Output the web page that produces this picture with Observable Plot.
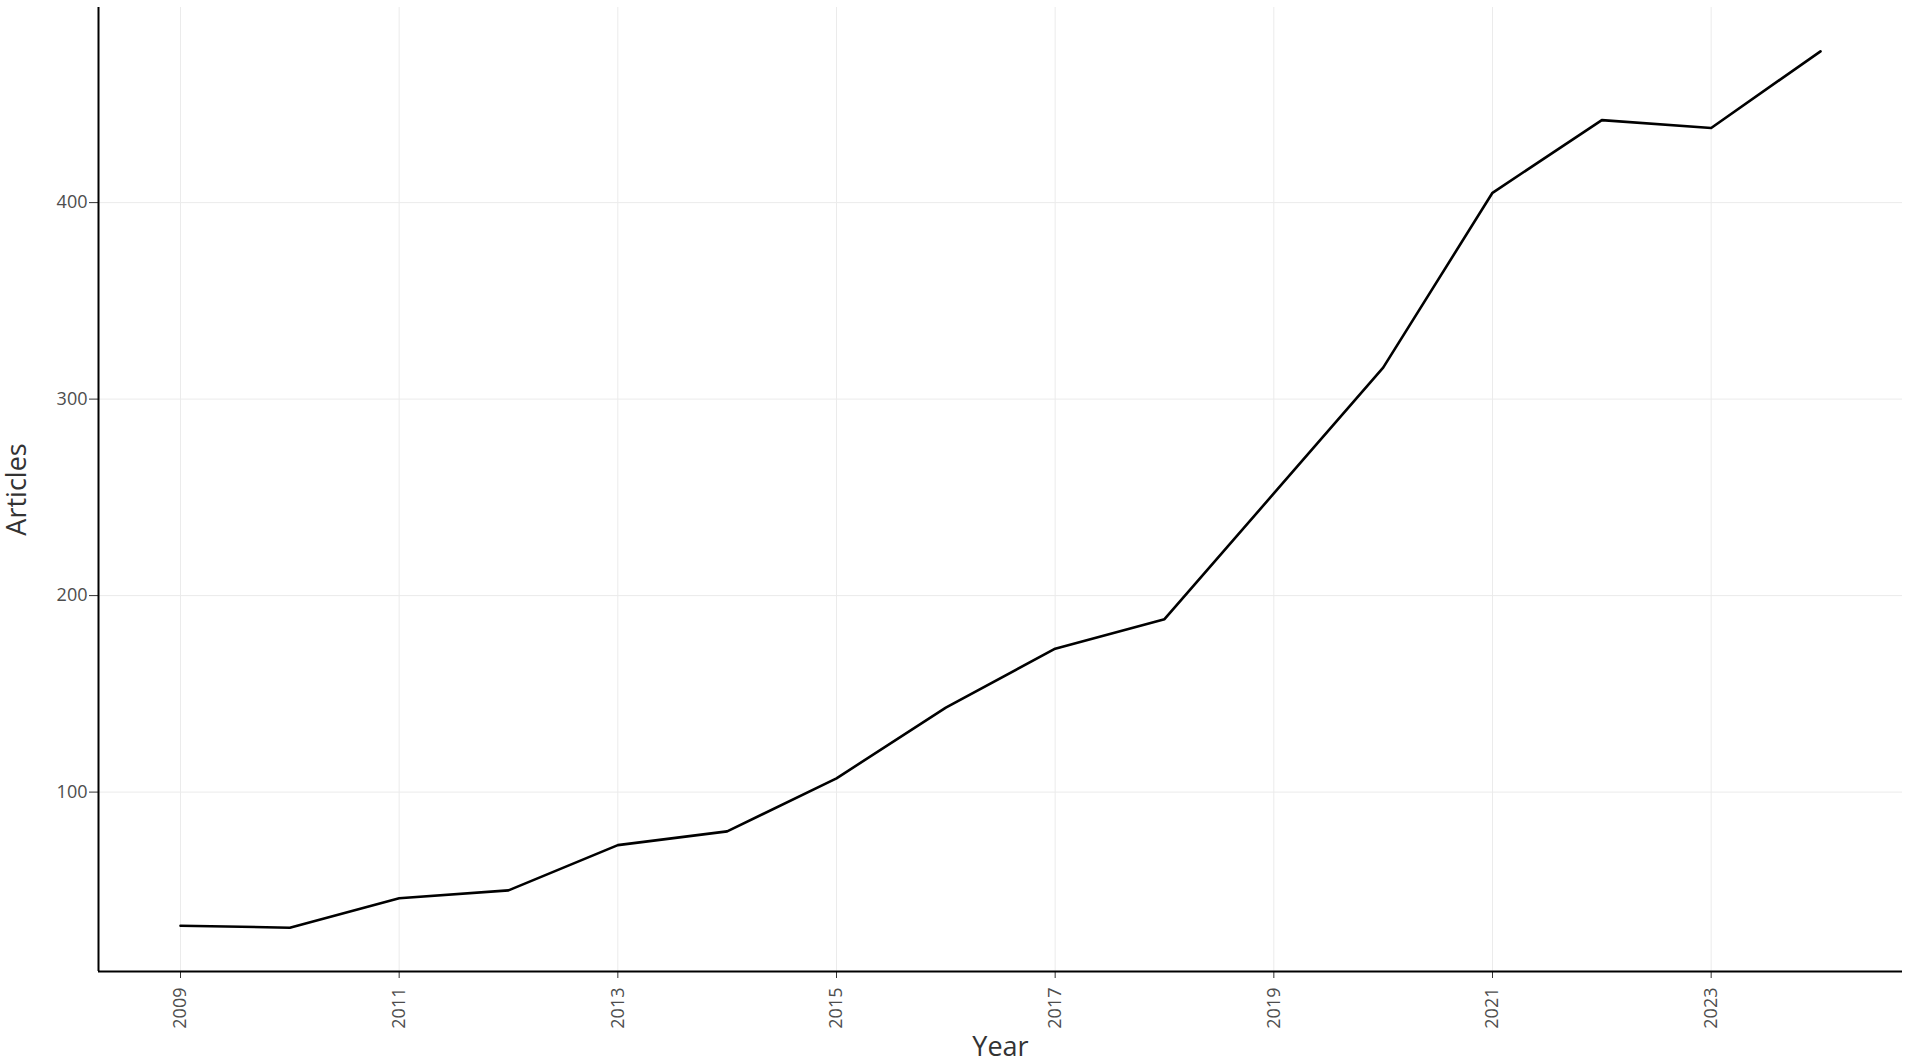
<!DOCTYPE html>
<html>
<head>
<meta charset="utf-8">
<script src="https://cdn.jsdelivr.net/npm/d3@7"></script>
<script src="https://cdn.jsdelivr.net/npm/@observablehq/plot@0.6"></script>
<style>
  html, body { margin: 0; padding: 0; background: #fff; }
  #chart svg { display: block; }
</style>
</head>
<body>
<div id="chart"></div>
<script>
// Data
const years = [2009, 2010, 2011, 2012, 2013, 2014, 2015, 2016, 2017, 2018, 2019, 2020, 2021, 2022, 2023, 2024];
const articles = [32, 31, 46, 50, 73, 80, 107, 143, 173, 188, 252, 316, 405, 442, 438, 477];
const xTicks = [2009, 2011, 2013, 2015, 2017, 2019, 2021, 2023];
const yTicks = [100, 200, 300, 400];
const xDomain = [2008.25, 2024.75];
const yDomain = [8.7, 499.3];
const xTitle = "Year";
const yTitle = "Articles";

const rows = years.map((y, i) => ({year: y, articles: articles[i]}));

const chart = Plot.plot({
  width: 1908,
  height: 1062,
  marginLeft: 98,
  marginRight: 6,
  marginTop: 7,
  marginBottom: 91,
  style: {fontFamily: "'Open Sans', sans-serif", background: "#fff", overflow: "visible"},
  x: {domain: xDomain},
  y: {domain: yDomain},
  marks: [
    Plot.gridX(xTicks, {stroke: "#ebebeb", strokeOpacity: 1, strokeWidth: 1}),
    Plot.gridY(yTicks, {stroke: "#ebebeb", strokeOpacity: 1, strokeWidth: 1}),
    Plot.axisX(xTicks, {
      tickFormat: d => String(d),
      tickRotate: -90,
      tickSize: 7,
      tickPadding: 9,
      fontSize: 18,
      fill: "#4d4d4d",
      stroke: "#333",
      label: null
    }),
    Plot.axisY(yTicks, {
      tickFormat: d => String(d),
      tickSize: 9,
      tickPadding: 2,
      fontSize: 18,
      fill: "#4d4d4d",
      stroke: "#333",
      label: null
    }),
    Plot.ruleY([yDomain[0]], {stroke: "#000", strokeWidth: 2}),
    Plot.ruleX([xDomain[0]], {stroke: "#000", strokeWidth: 2}),
    Plot.line(rows, {x: "year", y: "articles", stroke: "#000", strokeWidth: 2.6, strokeLinejoin: "round"}),
    Plot.text([xTitle], {frameAnchor: "bottom", text: d => d, dy: 76, textAnchor: "middle", lineAnchor: "middle", fontSize: 27, fill: "#333"}),
    Plot.text([yTitle], {frameAnchor: "left", text: d => d, dx: -81, rotate: -90, textAnchor: "middle", lineAnchor: "middle", fontSize: 27, fill: "#333"})
  ]
});

document.getElementById("chart").appendChild(chart);
</script>
</body>
</html>
